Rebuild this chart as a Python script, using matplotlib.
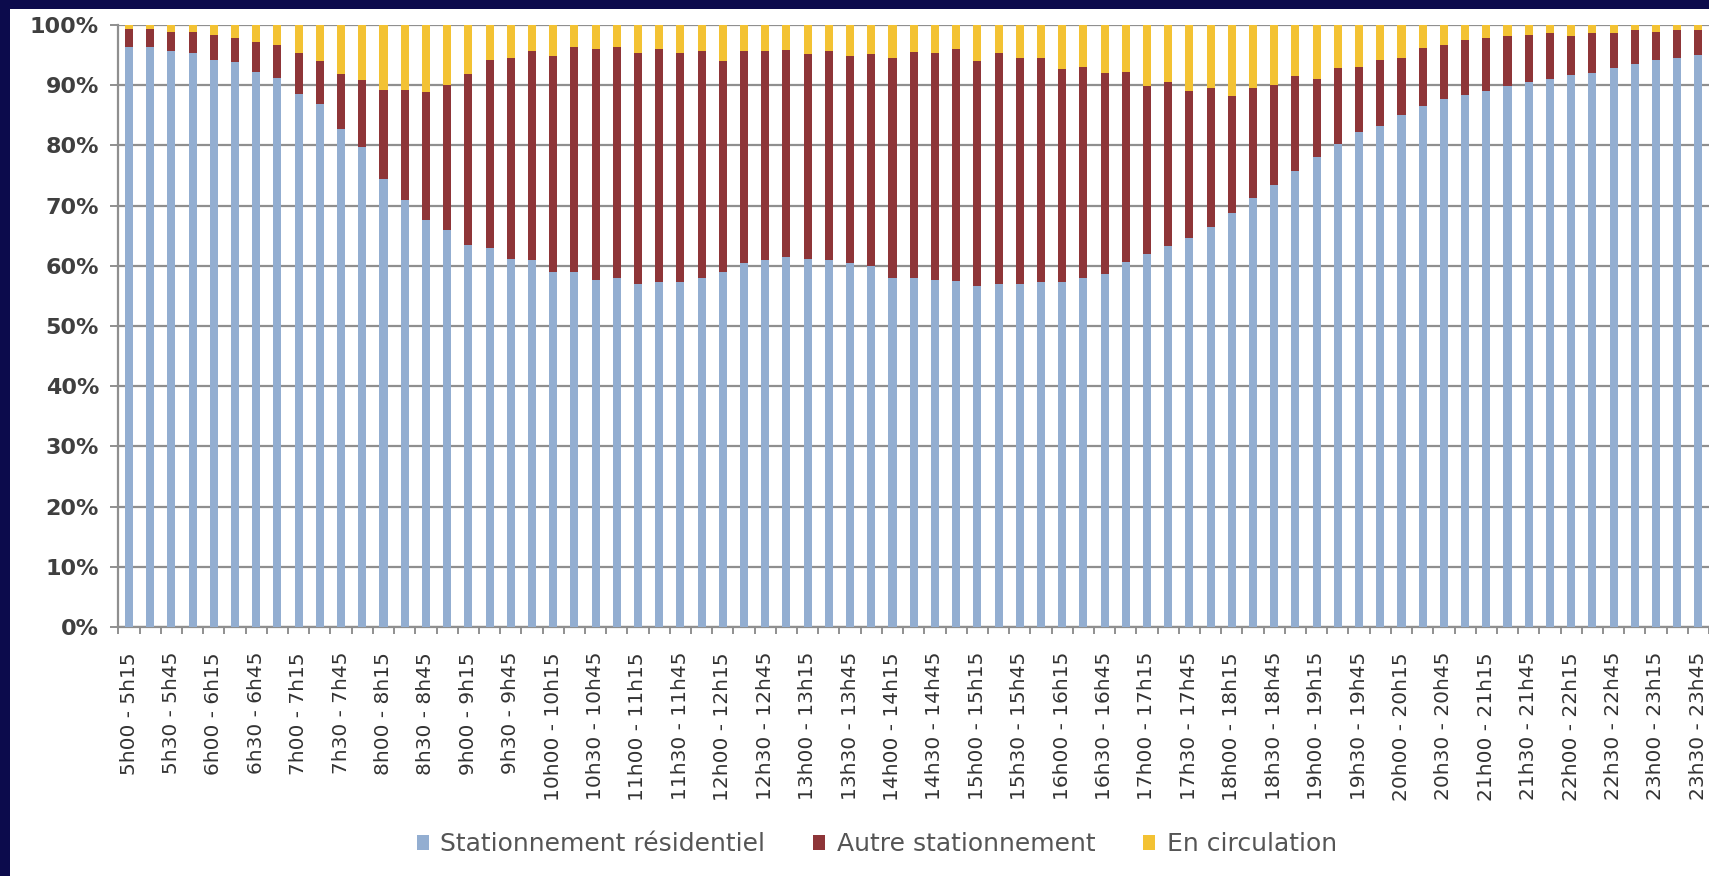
import matplotlib
matplotlib.use("Agg")
import matplotlib.pyplot as plt
from matplotlib.patches import Rectangle
import numpy as np

# ---- data -------------------------------------------------------------
_times = [f"{h}h{m:02d}" for h in range(5, 25) for m in (0, 15, 30, 45)]
categories = [f"{_times[i]} - {_times[i + 1]}" for i in range(75)]

residentiel = [96.4, 96.3, 95.7, 95.3, 94.2, 93.8, 92.2, 91.2, 88.6, 86.8,
               82.7, 79.8, 74.5, 70.9, 67.6, 65.9, 63.4, 62.9, 61.2, 60.9,
               59.0, 58.9, 57.6, 57.9, 56.9, 57.3, 57.3, 57.9, 58.9, 60.4,
               60.9, 61.5, 61.2, 60.9, 60.4, 60.0, 57.9, 57.9, 57.6, 57.4,
               56.7, 56.9, 56.9, 57.3, 57.3, 57.9, 58.7, 60.6, 61.9, 63.3,
               64.7, 66.5, 68.7, 71.3, 73.5, 75.7, 78.1, 80.3, 82.2, 83.3,
               85.0, 86.6, 87.7, 88.4, 89.0, 89.9, 90.6, 91.0, 91.7, 92.1,
               92.9, 93.5, 94.2, 94.6, 95.0]
autre = [3.0, 3.0, 3.2, 3.6, 4.1, 4.1, 4.9, 5.5, 6.7, 7.2,
         9.1, 11.0, 14.7, 18.3, 21.2, 24.1, 28.5, 31.3, 33.4, 34.7,
         35.9, 37.4, 38.4, 38.4, 38.4, 38.7, 38.0, 37.7, 35.2, 35.2,
         34.7, 34.3, 34.0, 34.8, 34.5, 35.1, 36.6, 37.6, 37.7, 38.6,
         37.4, 38.4, 37.7, 37.2, 35.4, 35.2, 33.3, 31.6, 27.9, 27.2,
         24.3, 23.1, 19.5, 18.3, 16.5, 15.9, 13.0, 12.5, 10.9, 10.9,
         9.6, 9.5, 9.0, 9.1, 8.9, 8.3, 7.7, 7.6, 6.5, 6.5,
         5.7, 5.6, 4.6, 4.5, 4.1]
circulation = [0.6, 0.7, 1.1, 1.1, 1.7, 2.1, 2.9, 3.3, 4.7, 6.0,
               8.2, 9.2, 10.8, 10.8, 11.2, 10.0, 8.1, 5.8, 5.4, 4.4,
               5.1, 3.7, 4.0, 3.7, 4.7, 4.0, 4.7, 4.4, 5.9, 4.4,
               4.4, 4.2, 4.8, 4.3, 5.1, 4.9, 5.5, 4.5, 4.7, 4.0,
               5.9, 4.7, 5.4, 5.5, 7.3, 6.9, 8.0, 7.8, 10.2, 9.5,
               11.0, 10.4, 11.8, 10.4, 10.0, 8.4, 8.9, 7.2, 6.9, 5.8,
               5.4, 3.9, 3.3, 2.5, 2.1, 1.8, 1.7, 1.4, 1.8, 1.4,
               1.4, 0.9, 1.2, 0.9, 0.9]
series_labels = ["Stationnement résidentiel", "Autre stationnement", "En circulation"]
y_ticks = [0, 10, 20, 30, 40, 50, 60, 70, 80, 90, 100]

# ---- style ------------------------------------------------------------
colors = ["#93AED1", "#8E3538", "#F3C233"]
W, H = 1709, 876
fig = plt.figure(figsize=(W / 100, H / 100), dpi=100)
fig.patch.set_facecolor("#0c0b4c")
fig.patches.append(Rectangle((10 / W, 0), 1, (H - 9) / H, transform=fig.transFigure,
                             facecolor="white", edgecolor="none", zorder=-10))

left = 118.4 / W
bottom = (H - 627) / H
top = (H - 25) / H
ax = fig.add_axes([left, bottom, 1 - left, top - bottom])
ax.set_zorder(2)
ax.set_facecolor("white")

x = np.arange(len(categories))
bw = 0.38
b1 = ax.bar(x, residentiel, bw, color=colors[0], label=series_labels[0], zorder=3)
b2 = ax.bar(x, autre, bw, bottom=residentiel, color=colors[1], label=series_labels[1], zorder=3)
bot3 = np.array(residentiel) + np.array(autre)
b3 = ax.bar(x, circulation, bw, bottom=bot3, color=colors[2], label=series_labels[2], zorder=3)

ax.set_xlim(-0.5, -0.5 + (W - 118.4) / 21.24)
ax.set_ylim(0, 100)

grid_c = "#8f8f8f"
ax.set_yticks(y_ticks)
ax.set_yticklabels([f"{v}%" for v in y_ticks], fontsize=16, fontweight="bold",
                   color="#3f3f3f", family="DejaVu Sans")
ax.yaxis.grid(True, color=grid_c, linewidth=1.6, zorder=1)
ax.set_axisbelow(True)
ax.tick_params(axis="y", length=6, width=1.4, color=grid_c, pad=8)

ax.set_xticks(x[::2])
ax.set_xticklabels(categories[::2], rotation=90, fontsize=14.5, color="#333333",
                   family="DejaVu Sans", va="top", ha="center")
ax.set_xticks(np.arange(-0.5, len(categories), 1.0), minor=True)
ax.tick_params(axis="x", which="major", length=0, pad=18)
ax.tick_params(axis="x", which="minor", length=5, width=1.4, color=grid_c)

for s in ("top", "right"):
    ax.spines[s].set_visible(False)
for s in ("left", "bottom"):
    ax.spines[s].set_color(grid_c)
    ax.spines[s].set_linewidth(1.6)

leg = fig.legend(handles=[b1, b2, b3], labels=series_labels, loc="center",
                 bbox_to_anchor=(0.513, 0.036), ncol=3, frameon=False,
                 fontsize=18, handlelength=0.5, handleheight=0.5,
                 handletextpad=0.45, columnspacing=1.9)
for t in leg.get_texts():
    t.set_color("#555555")

fig.savefig("out.png", dpi=100, facecolor=fig.get_facecolor())
